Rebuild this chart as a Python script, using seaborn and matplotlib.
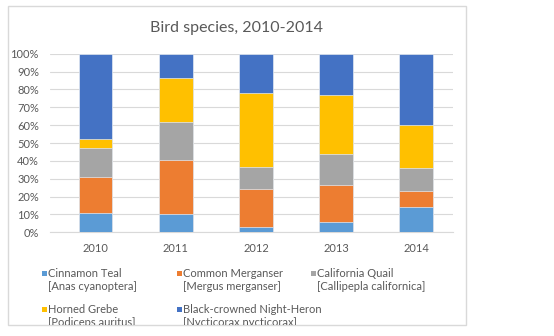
import numpy as np
import pandas as pd
import matplotlib
matplotlib.use("Agg")
import matplotlib.pyplot as plt
import seaborn as sns
from matplotlib.patches import Rectangle

# ---- data ----
years = ["2010", "2011", "2012", "2013", "2014"]
species = ["Cinnamon Teal", "Common Merganser", "California Quail",
           "Horned Grebe", "Black-crowned Night-Heron"]
latin = ["[Anas cyanoptera]", "[Mergus merganser]", "[Callipepla californica]",
         "[Podiceps auritus]", "[Nycticorax nycticorax]"]
cinnamon_teal = [10.8, 10.4, 3.2, 6.0, 14.2]
common_merganser = [20.0, 30.1, 21.1, 20.7, 8.9]
california_quail = [16.2, 21.1, 12.3, 17.1, 13.1]
horned_grebe = [5.2, 25.0, 41.6, 33.1, 24.1]
night_heron = [47.8, 13.4, 21.8, 23.1, 39.7]
y_ticks = [0, 10, 20, 30, 40, 50, 60, 70, 80, 90, 100]
y_tick_labels = [f"{v}%" for v in y_ticks]
title = "Bird species, 2010-2014"

colors = ["#5B9BD5", "#ED7D31", "#A5A5A5", "#FFC000", "#4472C4"]
TXT = "#595959"
GRID = "#D9D9D9"

sns.set_style("white")
plt.rcParams["font.family"] = ["Lato", "DejaVu Sans"]

W, H = 554, 336
fig = plt.figure(figsize=(W / 100, H / 100), dpi=100)


def fx(x):
    return x / W


def fy(y):
    return 1 - y / H


ax = fig.add_axes([fx(50), fy(232.3), fx(453) - fx(50), fy(53.7) - fy(232.3)])

series = [cinnamon_teal, common_merganser, california_quail, horned_grebe, night_heron]
vals = np.array(series, dtype=float)
shares = vals / vals.sum(axis=0) * 100
cum = np.cumsum(shares, axis=0)

df = pd.DataFrame({
    "year": np.repeat([years], len(species), axis=0).ravel(),
    "species": np.repeat(species, len(years)),
    "cum": cum.ravel(),
})

for i in range(len(species) - 1, -1, -1):
    sub = df[df["species"] == species[i]]
    sns.barplot(data=sub, x="year", y="cum", order=years, color=colors[i],
                saturation=1, width=0.42, edgecolor="#E4EAF2", linewidth=0.5,
                ax=ax, zorder=3)

ax.set_xlim(-0.57, 4.46)
ax.set_ylim(0, 100)
ax.set_yticks(y_ticks)
ax.set_yticklabels(y_tick_labels)
ax.set_xlabel("")
ax.set_ylabel("")
ax.grid(axis="y", color=GRID, linewidth=0.8, zorder=0)
ax.grid(axis="x", visible=False)
ax.set_axisbelow(True)
for s in ["left", "right", "top"]:
    ax.spines[s].set_visible(False)
ax.spines["bottom"].set_color(GRID)
ax.spines["bottom"].set_linewidth(0.8)
ax.tick_params(axis="both", length=0, colors=TXT, labelsize=8)
ax.tick_params(axis="y", pad=8)
ax.tick_params(axis="x", pad=8)

# chart border
border = Rectangle((fx(8), fy(325)), fx(466) - fx(8), fy(6) - fy(325),
                   transform=fig.transFigure, fill=False, edgecolor=GRID,
                   linewidth=1.0)
fig.patches.append(border)

fig.text(fx(237), fy(28), title, ha="center", va="center", fontsize=11.5, color=TXT)

# legend
col_x = [41.7, 176.5, 310.5]
row_y = [273.5, 309.5]
for i, (name, lat) in enumerate(zip(species, latin)):
    r, c = divmod(i, 3)
    x0, y0 = col_x[c], row_y[r]
    fig.patches.append(Rectangle((fx(x0), fy(y0 + 2.5)), fx(5), 5 / H,
                                 transform=fig.transFigure, facecolor=colors[i],
                                 edgecolor="none"))
    t1 = fig.text(fx(x0 + 6.5), fy(y0), name, ha="left", va="center",
                  fontsize=8, color=TXT)
    t2 = fig.text(fx(x0 + 6.5), fy(y0 + 13.5), lat, ha="left", va="center",
                  fontsize=8, color=TXT)
    for t in (t1, t2):
        t.set_clip_path(border)

fig.savefig("out.png", dpi=100)
